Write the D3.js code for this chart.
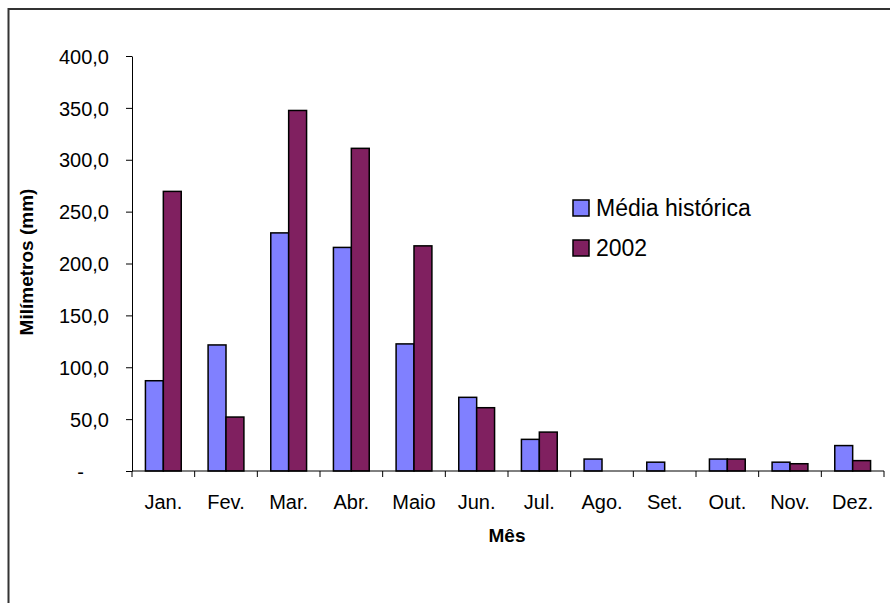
<!DOCTYPE html>
<html>
<head>
<meta charset="utf-8">
<script src="https://cdn.jsdelivr.net/npm/d3@7"></script>
<style>
  body { margin: 0; background: #fff; }
  text { font-family: 'Liberation Sans', Arial, sans-serif; fill: #000; }
</style>
</head>
<body>
<svg id="chart" width="890" height="603"></svg>
<script>
const months = ['Jan.', 'Fev.', 'Mar.', 'Abr.', 'Maio', 'Jun.', 'Jul.', 'Ago.', 'Set.', 'Out.', 'Nov.', 'Dez.'];
const series = ['Média histórica', '2002'];
const mediaHistorica = [87, 121.5, 229.5, 215.5, 122.5, 71, 30.5, 11.5, 8.5, 11.5, 8.5, 24.5];
const ano2002 = [269.5, 52, 347.5, 311, 217, 61, 37.5, 0, 0, 11.5, 7, 10];
const yTicks = [0, 50, 100, 150, 200, 250, 300, 350, 400];
const colors = ['#8080ff', '#802060'];

const svg = d3.select('#chart');

// chart area border (runs off the right and bottom edge)
svg
  .append('rect')
  .attr('x', 8.5)
  .attr('y', 9)
  .attr('width', 1000)
  .attr('height', 1000)
  .attr('fill', 'none')
  .attr('stroke', '#333')
  .attr('stroke-width', 2);

const plot = { left: 132, right: 884, top: 56, bottom: 471 };

const x = d3.scaleBand().domain(months).range([plot.left, plot.right]);
const xSub = d3
  .scaleBand()
  .domain(series)
  .range([0, x.bandwidth()])
  .paddingInner(0)
  .paddingOuter(0.75);
const y = d3.scaleLinear().domain([0, 400]).range([plot.bottom, plot.top]);

const fmt = (v) => (v === 0 ? '-' : d3.format('.1f')(v).replace('.', ','));

// y axis
const yAxis = svg
  .append('g')
  .attr('transform', 'translate(' + plot.left + ',0)')
  .call(d3.axisLeft(y).tickValues(yTicks).tickSize(6).tickSizeOuter(0).tickFormat(fmt));
yAxis.select('.domain').attr('stroke', '#000');
yAxis.selectAll('.tick line').attr('stroke', '#000');
yAxis
  .selectAll('.tick text')
  .attr('x', -23)
  .attr('dy', '0.36em')
  .style('font-size', '20px')
  .style('font-family', "'Liberation Sans', Arial, sans-serif");
yAxis
  .selectAll('.tick text')
  .filter((d) => d === 0)
  .attr('x', -48);

// bars
const rows = months.map((m, i) => ({ month: m, values: [mediaHistorica[i], ano2002[i]] }));
const groups = svg
  .selectAll('g.month')
  .data(rows)
  .join('g')
  .attr('class', 'month')
  .attr('transform', (d) => 'translate(' + x(d.month) + ',0)');
groups
  .selectAll('rect')
  .data((d) => d.values.map((v, j) => ({ key: series[j], value: v, j: j })).filter((e) => e.value > 0))
  .join('rect')
  .attr('x', (d) => xSub(d.key))
  .attr('y', (d) => y(d.value))
  .attr('width', xSub.bandwidth())
  .attr('height', (d) => y(0) - y(d.value))
  .attr('fill', (d) => colors[d.j])
  .attr('stroke', '#000')
  .attr('stroke-width', 1.5);

// x axis with ticks between categories
const xAxis = svg
  .append('g')
  .attr('transform', 'translate(0,' + plot.bottom + ')');
xAxis
  .append('line')
  .attr('x1', plot.left)
  .attr('x2', plot.right)
  .attr('stroke', '#000');
const edges = months.map((m) => x(m)).concat([plot.right]);
xAxis
  .selectAll('line.tick')
  .data(edges)
  .join('line')
  .attr('class', 'tick')
  .attr('x1', (d) => d)
  .attr('x2', (d) => d)
  .attr('y1', 0)
  .attr('y2', 6)
  .attr('stroke', '#000');
xAxis
  .selectAll('text')
  .data(months)
  .join('text')
  .attr('x', (d) => x(d) + x.bandwidth() / 2)
  .attr('y', 38)
  .attr('text-anchor', 'middle')
  .style('font-size', '20px')
  .text((d) => d);

// axis titles
svg
  .append('text')
  .attr('x', 507)
  .attr('y', 542)
  .attr('text-anchor', 'middle')
  .style('font-size', '19px')
  .style('font-weight', 'bold')
  .text('Mês');
svg
  .append('text')
  .attr('transform', 'translate(33,262) rotate(-90)')
  .attr('text-anchor', 'middle')
  .style('font-size', '19px')
  .style('font-weight', 'bold')
  .text('Milímetros (mm)');

// legend
const legend = svg
  .selectAll('g.legend')
  .data(series)
  .join('g')
  .attr('class', 'legend')
  .attr('transform', (d, i) => 'translate(573,' + (200 + i * 40) + ')');
legend
  .append('rect')
  .attr('width', 16)
  .attr('height', 16)
  .attr('fill', (d, i) => colors[i])
  .attr('stroke', '#000')
  .attr('stroke-width', 1.5);
legend
  .append('text')
  .attr('x', 23)
  .attr('y', 15.5)
  .style('font-size', '23px')
  .text((d) => d);
</script>
</body>
</html>
